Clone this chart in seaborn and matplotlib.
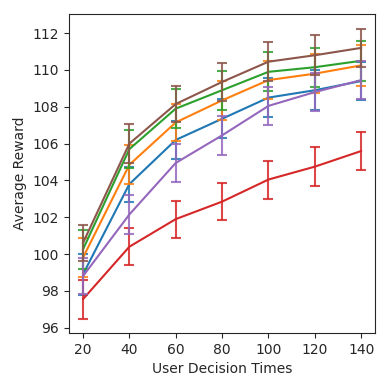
import matplotlib
matplotlib.use("Agg")
import matplotlib.pyplot as plt
import seaborn as sns
import pandas as pd

# data
times = [20, 40, 60, 80, 100, 120, 140]

blue = [98.9, 103.8, 106.2, 107.35, 108.5, 108.9, 109.4]
orange = [99.8, 104.85, 107.15, 108.35, 109.45, 109.8, 110.25]
green = [100.25, 105.7, 107.9, 108.9, 109.9, 110.15, 110.5]
red = [97.55, 100.4, 101.9, 102.85, 104.05, 104.75, 105.6]
purple = [98.8, 102.15, 104.95, 106.45, 108.05, 108.8, 109.45]
brown = [100.6, 106.0, 108.15, 109.35, 110.45, 110.8, 111.2]

blue_err = [1.1, 0.95, 1.05, 1.05, 1.05, 1.1, 1.05]
orange_err = [1.05, 1.05, 1.0, 1.05, 1.05, 1.05, 1.1]
green_err = [1.05, 1.05, 1.05, 1.05, 1.05, 1.05, 1.1]
red_err = [1.05, 1.0, 1.0, 1.0, 1.03, 1.07, 1.05]
purple_err = [0.97, 1.05, 1.03, 1.05, 1.05, 1.05, 1.05]
brown_err = [1.0, 1.05, 1.0, 1.05, 1.05, 1.1, 1.05]

series = [blue, orange, green, red, purple, brown]
errors = [blue_err, orange_err, green_err, red_err, purple_err, brown_err]
colors = sns.color_palette("tab10", 6)

sns.set_style("ticks")
fig = plt.figure(figsize=(3.9, 3.9), dpi=100)
ax = fig.add_axes([0.177, 0.146, 0.785, 0.818])

for i, (vals, err) in enumerate(zip(series, errors)):
    df = pd.DataFrame({"t": times, "r": vals})
    sns.lineplot(data=df, x="t", y="r", color=colors[i], linewidth=1.5, ax=ax)
    ax.errorbar(times, vals, yerr=err, fmt="none", ecolor=colors[i],
                elinewidth=1.5, capsize=3.5, capthick=1.5, alpha=0.85)

ax.set_xticks(times)
ax.set_xlabel("User Decision Times", fontsize=10)
ax.set_ylabel("Average Reward", fontsize=10)
ax.tick_params(labelsize=10)

fig.savefig("out.png", dpi=100)
